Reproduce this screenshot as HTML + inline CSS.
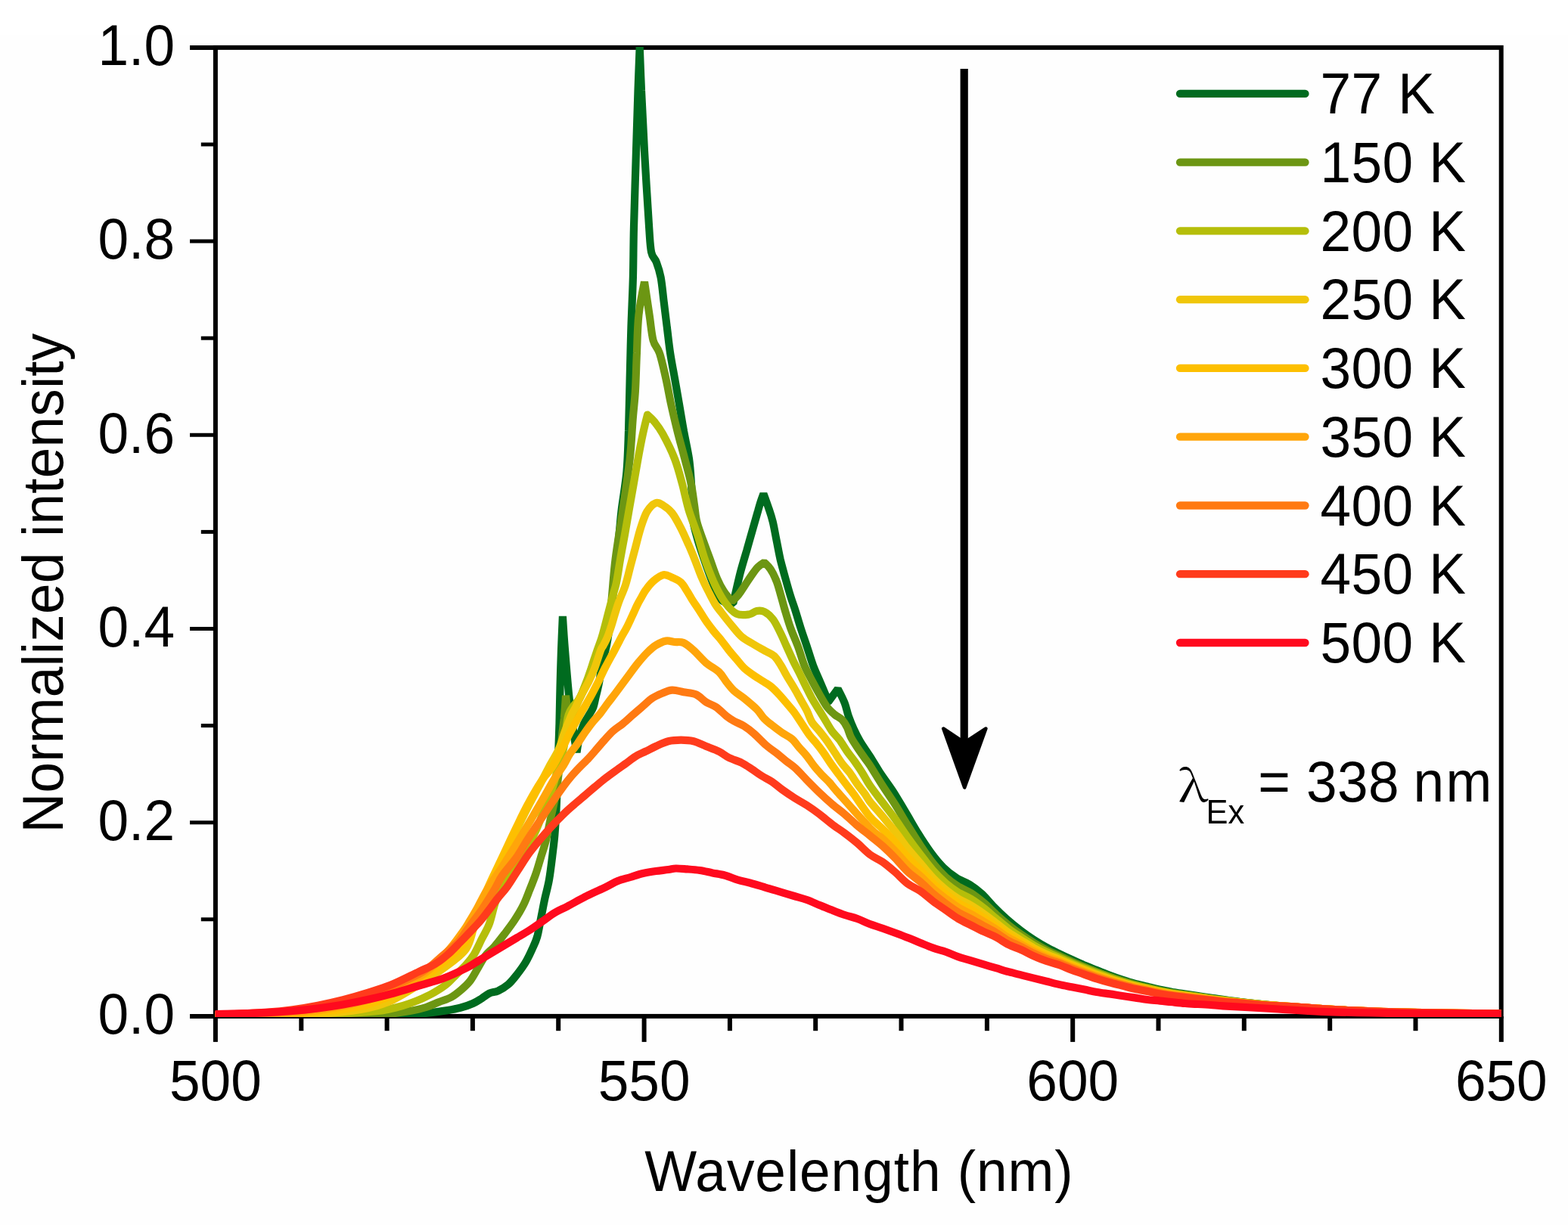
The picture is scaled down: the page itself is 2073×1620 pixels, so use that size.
<!DOCTYPE html>
<html lang="en"><head><meta charset="utf-8"><title>Normalized intensity vs Wavelength</title>
<style>html,body{margin:0;padding:0;background:#fff}body{width:2073px;height:1620px;overflow:hidden}svg{display:block}text{font-family:"Liberation Sans", Arial, Helvetica, sans-serif;fill:#000}</style></head><body>
<svg width="2073" height="1620" viewBox="0 0 2073 1620" role="img" aria-label="Normalized intensity versus wavelength at temperatures from 77 K to 500 K">
<rect width="2073" height="1620" fill="#fff"/>
<rect x="0" y="46" width="2073" height="1574" fill="#fefefe"/>
<rect x="284.9" y="62.9" width="1699.8" height="1281.0" fill="none" stroke="#000" stroke-width="6.0"/>
<g stroke="#000" stroke-width="6.0" fill="none" stroke-linecap="butt">
<line x1="251.0" y1="1344.0" x2="284.9" y2="1344.0" stroke-width="6.0"/>
<line x1="265.8" y1="1215.8" x2="284.9" y2="1215.8" stroke-width="5.0"/>
<line x1="251.0" y1="1087.7" x2="284.9" y2="1087.7" stroke-width="5.0"/>
<line x1="265.8" y1="959.6" x2="284.9" y2="959.6" stroke-width="5.0"/>
<line x1="251.0" y1="831.5" x2="284.9" y2="831.5" stroke-width="5.0"/>
<line x1="265.8" y1="703.4" x2="284.9" y2="703.4" stroke-width="5.0"/>
<line x1="251.0" y1="575.3" x2="284.9" y2="575.3" stroke-width="5.0"/>
<line x1="265.8" y1="447.2" x2="284.9" y2="447.2" stroke-width="5.0"/>
<line x1="251.0" y1="319.1" x2="284.9" y2="319.1" stroke-width="5.0"/>
<line x1="265.8" y1="191.0" x2="284.9" y2="191.0" stroke-width="5.0"/>
<line x1="251.0" y1="62.9" x2="284.9" y2="62.9" stroke-width="6.0"/>
<line x1="284.9" y1="1344.0" x2="284.9" y2="1377.9"/>
<line x1="398.3" y1="1344.0" x2="398.3" y2="1363.2"/>
<line x1="511.6" y1="1344.0" x2="511.6" y2="1363.2"/>
<line x1="624.9" y1="1344.0" x2="624.9" y2="1363.2"/>
<line x1="738.2" y1="1344.0" x2="738.2" y2="1363.2"/>
<line x1="851.6" y1="1344.0" x2="851.6" y2="1377.9"/>
<line x1="964.9" y1="1344.0" x2="964.9" y2="1363.2"/>
<line x1="1078.2" y1="1344.0" x2="1078.2" y2="1363.2"/>
<line x1="1191.5" y1="1344.0" x2="1191.5" y2="1363.2"/>
<line x1="1304.9" y1="1344.0" x2="1304.9" y2="1363.2"/>
<line x1="1418.2" y1="1344.0" x2="1418.2" y2="1377.9"/>
<line x1="1531.5" y1="1344.0" x2="1531.5" y2="1363.2"/>
<line x1="1644.8" y1="1344.0" x2="1644.8" y2="1363.2"/>
<line x1="1758.2" y1="1344.0" x2="1758.2" y2="1363.2"/>
<line x1="1871.5" y1="1344.0" x2="1871.5" y2="1363.2"/>
<line x1="1984.8" y1="1344.0" x2="1984.8" y2="1377.9"/>
</g>
<clipPath id="pc"><rect x="283.8" y="61.9" width="1701.6" height="1283.1"/></clipPath>
<g fill="none" stroke-width="10.2" stroke-linejoin="bevel" stroke-linecap="butt" clip-path="url(#pc)">
<path stroke="#006B1F" d="M284.7 1343.3 C303.9 1343.3 364.1 1343.3 400.0 1343.3 C435.9 1343.3 477.8 1343.5 500.0 1343.3 C522.2 1343.1 522.3 1342.6 533.4 1342.0 C544.5 1341.4 557.1 1340.5 566.8 1339.5 C576.5 1338.5 584.8 1337.2 591.8 1336.1 C598.8 1335.0 602.9 1334.3 608.5 1332.8 C614.1 1331.3 620.5 1329.1 625.2 1327.0 C629.9 1324.9 633.3 1322.5 636.9 1320.3 C640.5 1318.1 643.3 1315.3 646.9 1313.6 C650.5 1311.9 654.4 1312.2 658.6 1310.3 C662.8 1308.3 667.7 1305.5 671.9 1301.9 C676.1 1298.3 679.7 1293.6 683.6 1288.6 C687.5 1283.6 692.0 1277.5 695.3 1271.9 C698.6 1266.3 701.1 1260.8 703.6 1255.2 C706.1 1249.6 708.3 1245.5 710.3 1238.5 C712.2 1231.5 713.6 1221.8 715.3 1213.5 C717.0 1205.2 718.5 1196.8 720.3 1188.4 C722.1 1180.1 724.3 1173.1 726.0 1163.4 C727.7 1153.7 729.3 1140.0 730.5 1130.0 C731.7 1120.0 732.6 1113.5 733.4 1103.5 C734.2 1093.5 734.9 1082.2 735.5 1070.0 C736.1 1057.8 736.5 1043.3 737.0 1030.0 C737.5 1016.7 738.0 1002.2 738.4 990.0 C738.8 977.8 739.1 970.3 739.5 957.0 C739.9 943.7 740.1 926.2 740.5 910.0 C740.9 893.8 741.4 875.8 742.0 860.0 C742.6 844.2 743.9 815.0 743.9 815.0 C743.9 815.0 745.6 842.8 747.0 860.0 C748.4 877.2 750.5 903.0 752.0 918.0 C753.5 933.0 754.7 939.7 756.0 950.0 C757.3 960.3 758.9 972.5 760.0 980.0 C761.1 987.5 762.5 995.0 762.5 995.0 C762.5 995.0 764.4 981.3 766.0 975.0 C767.6 968.7 769.8 962.0 772.0 957.0 C774.2 952.0 777.0 948.6 779.0 945.0 C781.0 941.4 782.8 939.4 784.3 935.4 C785.8 931.4 786.8 924.9 787.8 921.0 C788.8 917.1 789.2 915.4 790.0 912.0 C790.8 908.6 791.2 907.3 792.4 900.6 C793.6 893.9 795.6 878.4 797.0 871.6 C798.4 864.8 799.4 864.4 800.5 860.0 C801.6 855.6 802.2 853.3 803.5 845.0 C804.8 836.7 805.5 833.0 808.0 810.0 C810.5 787.0 816.2 729.8 818.5 707.0 C820.8 684.2 820.1 687.4 821.8 673.5 C823.5 659.6 827.0 640.8 828.5 623.5 C830.0 606.2 830.3 590.5 831.0 570.0 C831.7 549.5 832.1 523.0 832.7 500.3 C833.3 477.6 833.7 455.8 834.4 433.5 C835.1 411.2 836.3 389.1 836.9 366.8 C837.5 344.6 837.3 327.8 838.0 300.0 C838.7 272.2 840.1 230.0 841.0 200.0 C841.9 170.0 842.7 143.0 843.5 120.0 C844.3 97.0 845.7 62.0 845.7 62.0 C845.7 62.0 847.0 97.0 848.0 120.0 C849.0 143.0 850.3 170.0 852.0 200.0 C853.7 230.0 856.6 277.8 858.1 300.0 C859.6 322.2 859.5 325.6 861.1 333.4 C862.7 341.2 865.7 341.1 867.8 346.7 C869.9 352.3 871.9 357.9 873.6 366.8 C875.3 375.7 876.4 389.1 877.8 400.2 C879.2 411.3 880.5 422.4 881.9 433.5 C883.3 444.6 884.4 455.8 886.1 466.9 C887.8 478.0 890.0 489.2 892.0 500.3 C894.0 511.4 895.8 522.1 897.8 533.7 C899.8 545.3 901.8 557.8 904.0 570.0 C906.2 582.2 909.3 595.1 911.0 606.8 C912.7 618.5 913.3 630.3 914.0 640.0 C914.7 649.7 914.6 656.7 915.0 665.0 C915.4 673.3 915.2 681.7 916.5 690.0 C917.8 698.3 920.4 706.7 922.8 715.0 C925.2 723.3 928.1 731.7 931.0 740.0 C933.9 748.3 936.7 756.7 940.0 765.0 C943.3 773.3 947.5 784.7 950.8 790.0 C954.1 795.3 956.9 795.7 960.0 797.0 C963.1 798.3 969.3 798.0 969.3 798.0 C969.3 798.0 970.4 792.9 972.0 786.0 C973.6 779.1 976.4 766.5 978.9 756.8 C981.4 747.1 984.5 737.4 987.3 727.6 C990.1 717.9 993.1 706.9 995.6 698.3 C998.1 689.7 1000.4 681.7 1002.0 676.0 C1003.6 670.3 1004.3 667.8 1005.5 664.0 C1006.7 660.2 1009.4 653.0 1009.4 653.0 C1009.4 653.0 1014.7 667.3 1016.7 673.5 C1018.8 679.7 1020.0 683.1 1021.7 690.0 C1023.4 696.9 1025.0 706.7 1026.7 715.0 C1028.4 723.3 1029.8 731.7 1031.7 740.0 C1033.7 748.3 1036.2 757.0 1038.4 765.0 C1040.6 773.0 1042.8 780.8 1045.0 788.0 C1047.2 795.2 1049.5 801.0 1051.7 808.0 C1053.9 815.0 1055.9 822.2 1058.4 830.0 C1060.9 837.8 1064.0 846.7 1066.8 855.0 C1069.6 863.3 1072.2 872.5 1075.0 880.0 C1077.8 887.5 1080.4 892.8 1083.5 900.0 C1086.6 907.2 1091.4 919.0 1093.5 923.5 C1095.6 928.0 1096.0 927.0 1096.0 927.0 L1107.7 911.0 C1107.7 911.0 1114.5 924.0 1116.8 930.0 C1119.1 936.0 1119.8 941.4 1121.8 947.0 C1123.8 952.6 1126.0 958.1 1128.5 963.6 C1131.0 969.1 1133.3 973.9 1136.9 980.0 C1140.5 986.1 1145.5 993.0 1150.0 1000.0 C1154.5 1007.0 1158.5 1014.3 1163.6 1022.0 C1168.6 1029.7 1174.7 1037.4 1180.3 1046.0 C1185.9 1054.6 1191.4 1064.4 1197.0 1073.7 C1202.6 1083.0 1208.2 1093.1 1213.7 1102.0 C1219.2 1110.9 1224.8 1119.5 1230.3 1127.0 C1235.8 1134.5 1241.3 1141.3 1247.0 1147.0 C1252.7 1152.7 1258.8 1157.2 1264.6 1161.0 C1270.4 1164.8 1276.4 1166.2 1282.0 1169.7 C1287.6 1173.2 1292.7 1177.1 1298.0 1182.0 C1303.3 1186.9 1308.4 1193.5 1313.8 1199.0 C1319.2 1204.5 1324.5 1209.7 1330.5 1215.0 C1336.5 1220.3 1344.0 1226.4 1350.0 1231.0 C1356.0 1235.6 1361.2 1239.1 1366.8 1242.7 C1372.4 1246.3 1378.0 1249.7 1383.5 1252.7 C1389.0 1255.8 1394.5 1258.3 1400.0 1261.0 C1405.5 1263.7 1411.2 1266.4 1416.8 1269.0 C1422.4 1271.6 1428.0 1274.2 1433.5 1276.5 C1439.0 1278.8 1444.4 1280.8 1450.0 1283.0 C1455.6 1285.2 1461.4 1287.6 1467.0 1289.7 C1472.6 1291.8 1478.1 1293.8 1483.6 1295.6 C1489.1 1297.4 1494.4 1299.1 1500.0 1300.6 C1505.6 1302.1 1511.4 1303.4 1517.0 1304.8 C1522.6 1306.2 1528.1 1307.6 1533.7 1308.8 C1539.3 1310.0 1544.9 1311.0 1550.4 1312.0 C1556.0 1313.0 1561.4 1313.8 1567.0 1314.6 C1572.6 1315.4 1578.2 1316.2 1583.8 1317.0 C1589.4 1317.8 1591.1 1318.3 1600.5 1319.6 C1609.9 1320.9 1623.4 1323.1 1640.0 1325.0 C1656.6 1326.9 1680.0 1329.3 1700.0 1331.0 C1720.0 1332.7 1740.0 1333.8 1760.0 1335.0 C1780.0 1336.2 1796.7 1337.2 1820.0 1338.0 C1843.3 1338.8 1872.5 1339.5 1900.0 1340.0 C1927.5 1340.5 1970.6 1340.8 1984.7 1341.0"/>
<path stroke="#6C9613" d="M284.7 1343.0 C312.2 1343.0 414.1 1343.2 450.0 1343.0 C485.9 1342.8 488.9 1342.4 500.0 1342.0 C511.1 1341.6 509.8 1341.4 516.7 1340.6 C523.7 1339.8 533.9 1338.4 541.7 1337.0 C549.5 1335.6 557.0 1334.0 563.4 1332.0 C569.8 1330.0 574.4 1327.5 580.0 1325.3 C585.6 1323.1 591.8 1321.4 596.8 1318.6 C601.8 1315.8 606.0 1312.2 610.2 1308.6 C614.4 1305.0 618.2 1301.6 621.8 1296.9 C625.4 1292.2 628.5 1285.8 631.9 1280.2 C635.2 1274.6 638.3 1268.2 641.9 1263.5 C645.5 1258.8 649.4 1256.5 653.6 1251.8 C657.8 1247.1 662.5 1241.0 666.9 1235.2 C671.3 1229.4 676.1 1223.2 680.3 1216.8 C684.5 1210.4 688.7 1203.5 692.0 1196.8 C695.3 1190.1 697.5 1183.7 700.3 1176.7 C703.1 1169.7 706.1 1162.3 708.6 1155.0 C711.1 1147.7 713.1 1140.2 715.3 1133.0 C717.5 1125.8 719.8 1119.5 721.7 1111.8 C723.7 1104.1 725.2 1095.1 727.0 1086.8 C728.8 1078.5 730.8 1070.8 732.5 1061.7 C734.2 1052.6 736.1 1042.3 737.5 1032.0 C738.9 1021.7 740.1 1009.5 741.0 1000.0 C741.9 990.5 742.4 981.3 742.9 975.0 C743.4 968.7 743.8 966.2 744.3 962.0 C744.8 957.8 745.3 954.5 745.8 950.0 C746.2 945.5 746.6 940.0 747.0 935.0 C747.4 930.0 748.0 919.8 748.0 919.8 C748.0 919.8 749.7 935.8 751.0 940.0 C752.3 944.2 753.8 947.0 756.0 945.0 C758.2 943.0 761.7 932.8 764.0 928.0 C766.3 923.2 767.7 921.3 770.0 916.0 C772.3 910.7 775.3 903.2 778.0 896.0 C780.7 888.8 783.8 879.2 786.0 873.0 C788.2 866.8 789.2 863.7 791.0 858.5 C792.8 853.3 795.2 847.6 797.0 842.0 C798.8 836.4 800.2 831.5 802.0 825.0 C803.8 818.5 805.6 817.1 807.5 803.0 C809.4 788.9 810.8 761.9 813.5 740.3 C816.2 718.7 820.3 695.8 823.5 673.5 C826.7 651.2 830.5 626.5 832.7 606.8 C834.9 587.0 835.4 570.0 836.6 555.0 C837.8 540.0 839.0 531.7 839.9 517.0 C840.8 502.3 841.1 483.6 841.9 466.9 C842.6 450.2 842.7 432.5 844.4 416.8 C846.1 401.1 852.0 372.8 852.0 372.8 C852.0 372.8 856.7 403.9 858.6 416.8 C860.5 429.7 861.4 441.9 863.6 450.2 C865.8 458.5 869.1 458.5 871.9 466.9 C874.7 475.2 877.8 489.2 880.3 500.3 C882.8 511.4 884.5 522.1 887.0 533.7 C889.5 545.3 892.5 557.8 895.5 570.0 C898.5 582.2 902.3 595.1 905.3 606.8 C908.3 618.5 911.6 629.8 913.7 640.0 C915.8 650.2 916.7 659.7 918.0 668.0 C919.3 676.3 919.3 682.2 921.3 690.0 C923.2 697.8 926.8 706.7 929.7 715.0 C932.6 723.3 935.9 731.7 938.9 740.0 C941.9 748.3 945.0 758.0 948.0 765.0 C951.0 772.0 953.5 776.7 956.8 781.8 C960.1 786.9 967.7 795.4 967.7 795.4 C967.7 795.4 973.9 789.6 976.8 786.0 C979.7 782.4 982.4 777.7 985.2 773.5 C988.0 769.3 990.7 764.9 993.5 761.0 C996.3 757.1 999.1 752.9 1001.9 750.0 C1004.7 747.1 1010.2 743.8 1010.2 743.8 C1010.2 743.8 1015.8 748.4 1018.6 752.6 C1021.4 756.9 1024.6 763.4 1026.9 769.3 C1029.2 775.2 1030.7 781.9 1032.5 788.0 C1034.3 794.1 1035.4 799.0 1037.5 806.0 C1039.6 813.0 1042.1 821.8 1045.0 830.0 C1047.9 838.2 1051.9 846.7 1055.0 855.0 C1058.1 863.3 1060.3 872.5 1063.4 880.0 C1066.5 887.5 1070.1 893.6 1073.4 900.0 C1076.8 906.4 1080.2 912.7 1083.5 918.5 C1086.8 924.3 1090.2 930.6 1093.5 935.0 C1096.8 939.4 1100.2 942.2 1103.5 945.0 C1106.8 947.8 1110.8 949.2 1113.5 952.0 C1116.2 954.8 1118.1 958.2 1120.0 962.0 C1121.9 965.8 1122.8 970.6 1125.0 975.0 C1127.2 979.4 1130.2 983.6 1133.5 988.6 C1136.8 993.6 1142.2 1001.1 1145.0 1005.0 C1147.8 1008.9 1146.3 1006.3 1150.0 1012.0 C1153.7 1017.7 1161.4 1030.5 1167.0 1039.2 C1172.6 1047.9 1178.1 1055.5 1183.6 1064.2 C1189.1 1072.9 1194.4 1082.5 1200.0 1091.5 C1205.6 1100.5 1211.4 1109.9 1217.0 1118.3 C1222.6 1126.7 1228.1 1134.8 1233.7 1141.7 C1239.3 1148.6 1244.9 1154.8 1250.4 1159.9 C1256.0 1165.0 1261.4 1168.7 1267.0 1172.2 C1272.6 1175.7 1278.2 1177.5 1283.8 1181.1 C1289.4 1184.7 1295.0 1189.1 1300.5 1193.7 C1306.0 1198.3 1311.2 1204.0 1316.7 1208.9 C1322.2 1213.9 1327.9 1218.9 1333.4 1223.4 C1339.0 1227.9 1344.4 1231.9 1350.0 1235.8 C1355.6 1239.7 1361.2 1243.4 1366.8 1246.8 C1372.4 1250.2 1378.0 1253.4 1383.5 1256.2 C1389.0 1259.0 1394.5 1261.2 1400.0 1263.8 C1405.5 1266.4 1411.2 1269.1 1416.8 1271.6 C1422.4 1274.1 1428.0 1276.5 1433.5 1278.8 C1439.0 1281.1 1444.4 1283.1 1450.0 1285.2 C1455.6 1287.3 1461.4 1289.5 1467.0 1291.5 C1472.6 1293.5 1478.1 1295.3 1483.6 1297.1 C1489.1 1298.8 1494.4 1300.5 1500.0 1302.0 C1505.6 1303.5 1511.4 1304.7 1517.0 1306.0 C1522.6 1307.3 1528.1 1308.7 1533.7 1309.9 C1539.3 1311.1 1544.9 1312.1 1550.4 1313.0 C1556.0 1313.9 1561.4 1314.6 1567.0 1315.4 C1572.6 1316.2 1578.2 1317.0 1583.8 1317.8 C1589.4 1318.6 1595.0 1319.4 1600.5 1320.2 C1606.0 1321.0 1609.4 1321.5 1617.0 1322.4 C1624.6 1323.4 1636.6 1324.9 1646.0 1325.9 C1655.4 1326.9 1663.3 1327.7 1673.4 1328.6 C1683.5 1329.5 1695.7 1330.6 1706.8 1331.4 C1717.9 1332.2 1728.9 1333.0 1740.0 1333.7 C1751.1 1334.4 1755.2 1334.9 1773.5 1335.7 C1791.8 1336.5 1814.8 1337.8 1850.0 1338.7 C1885.2 1339.6 1962.2 1340.5 1984.7 1340.9"/>
<path stroke="#B5BE0A" stroke-linejoin="round" d="M284.7 1343.0 C303.9 1342.8 372.4 1342.4 400.0 1342.0 C427.6 1341.6 433.3 1341.3 450.0 1340.5 C466.7 1339.7 487.5 1338.4 500.0 1337.0 C512.5 1335.6 518.0 1333.7 525.0 1332.0 C532.0 1330.3 536.1 1329.0 541.7 1327.0 C547.3 1325.0 552.9 1322.8 558.4 1320.3 C563.9 1317.8 569.7 1315.0 575.0 1311.9 C580.3 1308.8 585.2 1305.8 590.0 1301.9 C594.8 1298.0 599.0 1293.0 603.5 1288.6 C608.0 1284.1 612.9 1279.7 616.8 1275.2 C620.7 1270.8 623.5 1267.5 626.9 1261.9 C630.2 1256.3 633.6 1248.5 636.9 1241.8 C640.2 1235.1 643.9 1229.9 646.9 1221.8 C649.9 1213.7 652.2 1200.8 655.0 1193.0 C657.8 1185.2 660.7 1179.9 663.4 1175.0 C666.1 1170.1 667.6 1168.6 671.0 1163.5 C674.4 1158.4 679.3 1151.0 683.5 1144.3 C687.7 1137.6 691.8 1131.2 696.0 1123.5 C700.2 1115.8 705.2 1105.7 708.5 1098.4 C711.8 1091.2 713.4 1086.4 716.0 1080.0 C718.6 1073.6 721.5 1066.7 724.0 1060.0 C726.5 1053.3 728.8 1047.0 731.0 1040.0 C733.2 1033.0 735.2 1024.3 737.0 1018.0 C738.8 1011.7 740.5 1007.5 742.0 1002.0 C743.5 996.5 744.9 991.2 746.0 985.0 C747.1 978.8 747.8 970.8 748.5 965.0 C749.2 959.2 749.7 954.0 750.5 950.0 C751.3 946.0 752.0 944.1 753.4 941.2 C754.8 938.3 757.1 935.1 759.0 932.5 C760.9 929.9 763.3 928.2 765.0 925.6 C766.7 923.0 768.0 920.1 769.4 916.9 C770.8 913.7 772.1 909.9 773.5 906.4 C774.9 902.9 776.2 899.7 777.5 896.0 C778.8 892.3 780.1 888.5 781.5 884.4 C782.9 880.3 784.2 875.7 785.6 871.6 C787.0 867.5 788.0 864.7 789.6 860.0 C791.2 855.3 793.7 849.1 795.5 843.3 C797.3 837.5 798.6 832.2 800.5 825.0 C802.4 817.8 805.2 806.7 807.0 800.0 C808.8 793.3 809.7 790.0 811.0 785.0 C812.3 780.0 813.5 777.5 815.0 770.0 C816.5 762.5 818.2 750.5 820.0 740.0 C821.8 729.5 824.0 718.1 826.0 707.0 C828.0 695.9 829.8 684.7 831.8 673.5 C833.8 662.3 835.8 651.1 837.7 640.0 C839.7 628.9 841.5 617.9 843.5 606.8 C845.5 595.7 847.9 583.1 850.0 573.4 C852.1 563.7 856.0 548.5 856.0 548.5 C856.0 548.5 861.7 553.4 865.0 557.5 C868.3 561.6 871.5 565.2 876.0 573.4 C880.5 581.6 887.7 595.7 892.0 606.8 C896.3 617.9 899.0 628.9 902.0 640.0 C905.0 651.1 907.0 662.3 910.3 673.5 C913.6 684.7 918.4 695.9 922.0 707.0 C925.6 718.1 928.1 729.2 932.0 740.3 C935.9 751.4 940.9 764.2 945.4 773.7 C949.9 783.2 954.0 790.7 958.7 797.0 C963.4 803.3 968.4 809.1 973.7 811.7 C979.0 814.3 986.0 813.1 990.4 812.5 C994.8 811.9 997.0 808.6 1000.4 808.0 C1003.8 807.4 1006.9 807.2 1010.5 809.0 C1014.1 810.8 1018.5 814.4 1022.0 819.0 C1025.5 823.6 1028.7 830.8 1031.7 836.8 C1034.7 842.8 1037.2 848.9 1040.0 855.0 C1042.8 861.1 1045.6 867.7 1048.4 873.5 C1051.2 879.3 1054.0 884.4 1056.8 890.0 C1059.6 895.6 1062.2 901.3 1065.0 906.9 C1067.8 912.5 1070.3 918.0 1073.4 923.5 C1076.5 929.0 1080.4 935.0 1083.5 940.0 C1086.6 945.0 1089.0 949.1 1091.8 953.6 C1094.5 958.1 1097.0 962.8 1100.0 967.0 C1103.0 971.2 1106.7 974.1 1110.0 978.6 C1113.3 983.1 1116.7 989.0 1120.0 993.7 C1123.3 998.4 1126.7 1002.3 1130.0 1007.0 C1133.3 1011.7 1136.7 1016.7 1140.0 1022.0 C1143.3 1027.3 1145.5 1032.1 1150.0 1038.7 C1154.5 1045.3 1161.4 1054.0 1167.0 1061.4 C1172.6 1068.8 1178.1 1075.6 1183.6 1083.3 C1189.1 1091.0 1194.4 1099.6 1200.0 1107.4 C1205.6 1115.2 1211.4 1123.0 1217.0 1130.3 C1222.6 1137.6 1228.1 1145.1 1233.7 1151.4 C1239.3 1157.7 1244.9 1163.2 1250.4 1168.0 C1256.0 1172.8 1261.4 1176.7 1267.0 1180.2 C1272.6 1183.7 1278.2 1185.5 1283.8 1188.9 C1289.4 1192.3 1295.0 1196.5 1300.5 1200.8 C1306.0 1205.1 1311.2 1209.9 1316.7 1214.5 C1322.2 1219.1 1327.9 1224.0 1333.4 1228.2 C1339.0 1232.4 1344.4 1235.8 1350.0 1239.5 C1355.6 1243.2 1361.2 1246.9 1366.8 1250.1 C1372.4 1253.3 1378.0 1256.2 1383.5 1258.9 C1389.0 1261.6 1394.5 1263.6 1400.0 1266.1 C1405.5 1268.6 1411.2 1271.3 1416.8 1273.7 C1422.4 1276.1 1428.0 1278.4 1433.5 1280.6 C1439.0 1282.8 1444.4 1284.8 1450.0 1286.9 C1455.6 1289.0 1461.4 1291.1 1467.0 1293.0 C1472.6 1294.9 1478.1 1296.6 1483.6 1298.3 C1489.1 1300.0 1494.4 1301.6 1500.0 1303.0 C1505.6 1304.4 1511.4 1305.6 1517.0 1306.9 C1522.6 1308.2 1528.1 1309.6 1533.7 1310.7 C1539.3 1311.8 1544.9 1312.8 1550.4 1313.7 C1556.0 1314.6 1561.4 1315.3 1567.0 1316.1 C1572.6 1316.9 1578.2 1317.6 1583.8 1318.4 C1589.4 1319.2 1595.0 1320.0 1600.5 1320.7 C1606.0 1321.5 1609.4 1322.0 1617.0 1322.9 C1624.6 1323.8 1636.6 1325.1 1646.0 1326.1 C1655.4 1327.1 1663.3 1327.8 1673.4 1328.7 C1683.5 1329.6 1695.7 1330.5 1706.8 1331.3 C1717.9 1332.1 1728.9 1332.9 1740.0 1333.6 C1751.1 1334.3 1755.2 1334.8 1773.5 1335.6 C1791.8 1336.4 1814.8 1337.8 1850.0 1338.7 C1885.2 1339.6 1962.2 1340.5 1984.7 1340.8"/>
<path stroke="#F0C60A" stroke-linejoin="round" d="M284.7 1343.0 C300.6 1342.8 354.1 1342.6 380.0 1342.0 C405.9 1341.4 422.2 1341.0 440.0 1339.5 C457.8 1338.0 473.7 1335.9 487.0 1333.0 C500.3 1330.1 508.8 1327.2 520.0 1322.0 C531.2 1316.8 542.8 1309.0 554.0 1302.0 C565.2 1295.0 576.7 1287.8 587.0 1280.0 C597.3 1272.2 609.2 1264.7 616.0 1255.0 C622.8 1245.3 622.9 1235.3 628.0 1222.0 C633.1 1208.7 642.1 1185.9 646.6 1175.0 C651.1 1164.1 651.8 1163.6 655.0 1156.8 C658.2 1150.0 662.2 1141.9 665.8 1134.3 C669.4 1126.7 673.1 1118.7 676.7 1111.0 C680.3 1103.3 683.8 1096.1 687.5 1088.4 C691.2 1080.7 695.0 1073.1 699.2 1065.0 C703.4 1056.9 708.1 1048.4 712.5 1040.0 C716.9 1031.6 721.4 1022.7 725.7 1014.6 C730.0 1006.5 735.0 999.1 738.5 991.4 C742.0 983.7 743.6 975.9 746.5 968.2 C749.4 960.5 753.4 950.5 755.8 945.0 C758.2 939.5 758.8 939.9 761.0 935.4 C763.2 930.9 766.2 923.8 769.2 918.0 C772.2 912.2 775.9 906.4 778.7 900.6 C781.6 894.8 783.7 890.0 786.3 883.2 C788.9 876.4 792.2 865.0 794.1 860.0 C796.0 855.0 796.3 856.1 797.8 853.3 C799.2 850.5 801.1 847.3 802.8 843.3 C804.5 839.3 806.1 834.3 807.8 829.2 C809.5 824.1 811.0 818.2 812.8 812.5 C814.6 806.8 816.1 801.5 818.5 795.0 C820.9 788.5 824.4 781.4 826.9 773.7 C829.4 766.0 831.3 757.0 833.5 748.6 C835.7 740.2 838.0 731.9 840.2 723.6 C842.4 715.3 844.4 706.4 846.9 698.6 C849.4 690.8 851.9 682.5 855.2 676.9 C858.5 671.3 863.3 666.6 866.9 665.2 C870.5 663.8 873.4 666.3 877.0 668.5 C880.6 670.7 884.7 673.5 888.6 678.5 C892.5 683.5 896.7 691.6 900.3 698.6 C903.9 705.6 907.2 713.3 910.3 720.3 C913.4 727.2 915.9 733.3 918.7 740.3 C921.5 747.2 924.1 755.2 927.0 762.0 C929.9 768.8 932.9 774.9 936.0 781.0 C939.1 787.1 942.4 793.9 945.4 798.7 C948.4 803.5 950.1 805.3 953.7 810.0 C957.3 814.7 962.5 821.4 967.0 826.7 C971.5 832.0 975.4 837.5 980.4 841.8 C985.4 846.1 991.9 849.4 997.0 852.5 C1002.1 855.6 1006.6 858.0 1011.0 860.5 C1015.4 863.0 1019.9 864.2 1023.5 867.5 C1027.1 870.8 1029.8 875.7 1032.5 880.0 C1035.2 884.3 1037.1 888.5 1040.0 893.5 C1042.9 898.5 1046.9 904.8 1050.0 910.0 C1053.1 915.2 1055.6 920.0 1058.4 925.0 C1061.2 930.0 1064.3 935.0 1066.8 940.0 C1069.3 945.0 1070.6 950.5 1073.4 955.0 C1076.2 959.5 1080.2 962.8 1083.5 967.0 C1086.8 971.2 1090.2 975.3 1093.5 980.0 C1096.8 984.7 1100.2 990.0 1103.5 995.0 C1106.8 1000.0 1110.2 1005.5 1113.5 1010.0 C1116.8 1014.5 1120.2 1017.5 1123.5 1022.0 C1126.8 1026.5 1130.2 1032.3 1133.5 1037.0 C1136.8 1041.7 1140.8 1046.2 1143.5 1050.0 C1146.2 1053.8 1146.1 1055.0 1150.0 1060.0 C1153.9 1065.0 1161.4 1073.1 1167.0 1079.8 C1172.6 1086.5 1178.1 1092.9 1183.6 1099.9 C1189.1 1106.9 1194.4 1115.0 1200.0 1122.0 C1205.6 1129.0 1211.4 1135.4 1217.0 1141.9 C1222.6 1148.4 1228.1 1155.4 1233.7 1161.2 C1239.3 1167.0 1244.9 1172.1 1250.4 1176.7 C1256.0 1181.3 1261.4 1185.2 1267.0 1188.6 C1272.6 1192.0 1278.2 1194.0 1283.8 1197.3 C1289.4 1200.6 1295.0 1204.4 1300.5 1208.3 C1306.0 1212.2 1311.2 1216.3 1316.7 1220.5 C1322.2 1224.7 1327.9 1229.5 1333.4 1233.3 C1339.0 1237.1 1344.4 1240.1 1350.0 1243.5 C1355.6 1246.9 1361.2 1250.5 1366.8 1253.6 C1372.4 1256.6 1378.0 1259.3 1383.5 1261.8 C1389.0 1264.3 1394.5 1266.2 1400.0 1268.5 C1405.5 1270.8 1411.2 1273.5 1416.8 1275.8 C1422.4 1278.1 1428.0 1280.3 1433.5 1282.5 C1439.0 1284.7 1444.4 1286.7 1450.0 1288.7 C1455.6 1290.7 1461.4 1292.8 1467.0 1294.6 C1472.6 1296.4 1478.1 1298.0 1483.6 1299.6 C1489.1 1301.2 1494.4 1302.8 1500.0 1304.2 C1505.6 1305.6 1511.4 1306.7 1517.0 1307.9 C1522.6 1309.1 1528.1 1310.5 1533.7 1311.6 C1539.3 1312.7 1544.9 1313.6 1550.4 1314.5 C1556.0 1315.4 1561.4 1316.0 1567.0 1316.8 C1572.6 1317.5 1578.2 1318.3 1583.8 1319.0 C1589.4 1319.7 1595.0 1320.5 1600.5 1321.2 C1606.0 1321.9 1609.4 1322.5 1617.0 1323.3 C1624.6 1324.1 1636.6 1325.4 1646.0 1326.3 C1655.4 1327.2 1663.3 1328.1 1673.4 1328.9 C1683.5 1329.7 1695.7 1330.4 1706.8 1331.2 C1717.9 1332.0 1728.9 1332.9 1740.0 1333.6 C1751.1 1334.3 1755.2 1334.8 1773.5 1335.6 C1791.8 1336.4 1814.8 1337.7 1850.0 1338.6 C1885.2 1339.5 1962.2 1340.4 1984.7 1340.8"/>
<path stroke="#FDBF00" stroke-linejoin="round" d="M284.7 1343.0 C295.6 1342.8 327.4 1342.8 350.0 1342.0 C372.6 1341.2 397.2 1340.3 420.0 1338.0 C442.8 1335.7 464.7 1334.8 487.0 1328.0 C509.3 1321.2 532.5 1310.8 554.0 1297.0 C575.5 1283.2 603.3 1259.8 616.0 1245.0 C628.7 1230.2 625.2 1219.7 630.0 1208.0 C634.8 1196.3 640.8 1183.5 644.6 1175.0 C648.4 1166.5 649.8 1163.6 653.0 1156.8 C656.2 1150.0 660.2 1141.9 663.8 1134.3 C667.4 1126.7 671.1 1118.7 674.7 1111.0 C678.3 1103.3 681.8 1096.1 685.5 1088.4 C689.2 1080.7 692.9 1073.1 697.2 1065.0 C701.5 1056.9 707.6 1046.3 711.4 1040.0 C715.2 1033.7 716.9 1031.2 720.0 1027.0 C723.1 1022.8 726.2 1020.5 730.0 1014.6 C733.8 1008.7 738.5 999.1 742.5 991.4 C746.5 983.7 749.9 975.9 754.0 968.2 C758.1 960.5 763.9 950.5 767.0 945.0 C770.1 939.5 770.0 939.9 772.6 935.4 C775.2 930.9 779.4 923.8 782.5 918.0 C785.6 912.2 788.6 906.4 791.5 900.6 C794.4 894.8 796.4 890.0 799.9 883.2 C803.4 876.4 808.7 866.9 812.4 860.0 C816.1 853.1 819.4 846.6 822.0 841.7 C824.6 836.8 826.0 834.9 828.3 830.4 C830.6 825.9 833.4 819.7 835.8 814.6 C838.2 809.5 840.5 804.1 842.5 800.0 C844.5 795.9 846.1 793.3 848.0 790.0 C849.9 786.7 851.0 783.9 853.6 780.4 C856.2 776.9 859.7 772.1 863.6 768.7 C867.5 765.4 872.8 761.1 877.0 760.3 C881.2 759.5 884.7 762.0 888.6 763.7 C892.5 765.4 897.0 767.2 900.3 770.3 C903.6 773.3 906.0 778.1 908.5 782.0 C911.0 785.9 912.8 789.4 915.3 793.4 C917.8 797.4 920.6 801.3 923.7 806.0 C926.8 810.7 930.4 816.9 933.7 821.7 C937.0 826.5 940.4 830.8 943.7 835.0 C947.0 839.2 950.4 842.6 953.7 846.8 C957.0 851.0 960.4 855.8 963.7 860.0 C967.0 864.2 970.4 867.9 973.7 871.8 C977.1 875.7 979.9 879.9 983.8 883.5 C987.7 887.1 992.6 890.5 997.0 893.5 C1001.4 896.5 1006.2 899.3 1010.0 901.8 C1013.8 904.3 1016.7 905.7 1020.0 908.5 C1023.3 911.3 1026.7 914.9 1030.0 918.5 C1033.3 922.1 1036.7 926.1 1040.0 930.0 C1043.3 933.9 1046.7 937.5 1050.0 942.0 C1053.3 946.5 1056.7 952.0 1060.0 957.0 C1063.3 962.0 1066.9 967.8 1070.0 972.0 C1073.1 976.2 1075.4 978.2 1078.5 982.0 C1081.6 985.8 1085.2 990.3 1088.5 995.0 C1091.8 999.7 1095.2 1005.2 1098.5 1010.0 C1101.8 1014.8 1105.2 1019.2 1108.5 1023.7 C1111.8 1028.2 1115.2 1032.6 1118.5 1037.0 C1121.8 1041.4 1123.2 1042.8 1128.5 1050.0 C1133.8 1057.2 1143.6 1072.3 1150.0 1080.0 C1156.4 1087.7 1161.4 1090.7 1167.0 1096.4 C1172.6 1102.1 1178.1 1107.9 1183.6 1114.1 C1189.1 1120.3 1194.4 1127.7 1200.0 1133.8 C1205.6 1139.9 1211.4 1145.0 1217.0 1150.8 C1222.6 1156.5 1228.1 1163.0 1233.7 1168.3 C1239.3 1173.6 1244.9 1178.2 1250.4 1182.6 C1256.0 1186.9 1261.4 1191.0 1267.0 1194.4 C1272.6 1197.8 1278.2 1199.9 1283.8 1203.1 C1289.4 1206.3 1295.0 1209.9 1300.5 1213.5 C1306.0 1217.1 1311.2 1220.8 1316.7 1224.7 C1322.2 1228.6 1327.9 1233.3 1333.4 1236.9 C1339.0 1240.5 1344.4 1243.0 1350.0 1246.2 C1355.6 1249.4 1361.2 1253.0 1366.8 1255.9 C1372.4 1258.9 1378.0 1261.5 1383.5 1263.9 C1389.0 1266.3 1394.5 1268.0 1400.0 1270.2 C1405.5 1272.5 1411.2 1275.1 1416.8 1277.4 C1422.4 1279.7 1428.0 1281.8 1433.5 1283.9 C1439.0 1286.0 1444.4 1288.0 1450.0 1290.0 C1455.6 1292.0 1461.4 1293.8 1467.0 1295.6 C1472.6 1297.3 1478.1 1298.9 1483.6 1300.5 C1489.1 1302.1 1494.4 1303.7 1500.0 1305.0 C1505.6 1306.3 1511.4 1307.4 1517.0 1308.6 C1522.6 1309.8 1528.1 1311.1 1533.7 1312.2 C1539.3 1313.3 1544.9 1314.2 1550.4 1315.0 C1556.0 1315.8 1561.4 1316.6 1567.0 1317.3 C1572.6 1318.0 1578.2 1318.7 1583.8 1319.4 C1589.4 1320.1 1595.0 1320.9 1600.5 1321.6 C1606.0 1322.3 1609.4 1322.9 1617.0 1323.7 C1624.6 1324.5 1636.6 1325.6 1646.0 1326.5 C1655.4 1327.4 1663.3 1328.2 1673.4 1329.0 C1683.5 1329.8 1695.7 1330.4 1706.8 1331.2 C1717.9 1332.0 1728.9 1332.9 1740.0 1333.6 C1751.1 1334.3 1755.2 1334.8 1773.5 1335.6 C1791.8 1336.4 1814.8 1337.8 1850.0 1338.6 C1885.2 1339.4 1962.2 1340.3 1984.7 1340.7"/>
<path stroke="#FFA50A" stroke-linejoin="round" d="M284.7 1342.5 C295.6 1342.2 327.4 1342.1 350.0 1341.0 C372.6 1339.9 397.2 1339.2 420.0 1336.0 C442.8 1332.8 464.7 1329.3 487.0 1322.0 C509.3 1314.7 536.8 1302.3 554.0 1292.0 C571.2 1281.7 580.3 1270.0 590.0 1260.0 C599.7 1250.0 606.8 1239.0 612.0 1232.0 C617.2 1225.0 617.8 1223.2 621.0 1218.0 C624.2 1212.8 627.7 1207.0 631.0 1201.0 C634.3 1195.0 637.5 1188.2 641.0 1182.0 C644.5 1175.8 648.0 1170.2 652.0 1164.0 C656.0 1157.8 659.7 1153.2 665.0 1145.0 C670.3 1136.8 677.7 1124.7 683.6 1115.0 C689.5 1105.3 694.7 1096.4 700.3 1086.9 C705.9 1077.4 711.5 1067.5 717.0 1058.0 C722.5 1048.5 728.3 1037.7 733.0 1030.0 C737.7 1022.3 741.6 1017.5 745.0 1012.0 C748.4 1006.5 750.3 1001.7 753.4 997.0 C756.5 992.3 760.1 988.3 763.4 983.6 C766.7 978.9 770.0 973.4 773.4 968.6 C776.8 963.8 780.1 959.2 783.5 955.0 C786.9 950.8 790.2 947.8 793.5 943.6 C796.8 939.4 800.2 934.4 803.5 930.0 C806.8 925.6 810.2 921.4 813.5 917.0 C816.8 912.6 820.2 908.0 823.5 903.5 C826.8 899.0 830.2 894.5 833.5 890.0 C836.8 885.5 839.9 881.2 843.5 876.8 C847.1 872.4 851.3 867.4 855.2 863.5 C859.1 859.6 862.8 856.0 867.0 853.4 C871.2 850.8 876.1 848.3 880.3 847.6 C884.5 846.9 888.1 848.6 892.0 849.0 C895.9 849.4 899.4 848.2 903.6 850.0 C907.8 851.8 912.0 855.5 917.0 860.0 C922.0 864.5 928.1 872.0 933.7 876.8 C939.3 881.5 946.0 884.3 950.4 888.5 C954.8 892.7 957.1 897.6 960.4 901.8 C963.7 906.0 966.5 909.9 970.4 913.5 C974.3 917.1 978.8 919.4 983.8 923.5 C988.8 927.6 996.1 933.6 1000.5 938.0 C1004.9 942.4 1006.8 946.6 1010.0 950.0 C1013.2 953.4 1016.1 955.5 1020.0 958.6 C1023.9 961.7 1029.0 965.5 1033.4 968.6 C1037.9 971.7 1042.8 973.7 1046.7 977.0 C1050.6 980.3 1053.4 984.8 1056.7 988.6 C1060.0 992.4 1063.5 995.8 1066.8 1000.0 C1070.1 1004.2 1073.5 1009.5 1076.8 1013.7 C1080.1 1017.9 1083.5 1021.5 1086.8 1025.0 C1090.1 1028.5 1093.5 1031.3 1096.8 1035.0 C1100.1 1038.7 1097.9 1037.0 1106.8 1047.0 C1115.7 1057.0 1140.0 1084.6 1150.0 1095.0 C1160.0 1105.4 1161.4 1104.2 1167.0 1109.3 C1172.6 1114.4 1178.1 1119.9 1183.6 1125.7 C1189.1 1131.5 1194.4 1138.4 1200.0 1143.9 C1205.6 1149.4 1211.4 1153.6 1217.0 1158.8 C1222.6 1164.0 1228.1 1170.0 1233.7 1175.0 C1239.3 1180.0 1244.9 1184.3 1250.4 1188.5 C1256.0 1192.7 1261.4 1196.8 1267.0 1200.2 C1272.6 1203.6 1278.2 1205.8 1283.8 1208.9 C1289.4 1212.0 1295.0 1215.5 1300.5 1218.8 C1306.0 1222.1 1311.2 1225.2 1316.7 1228.8 C1322.2 1232.4 1327.9 1237.0 1333.4 1240.4 C1339.0 1243.8 1344.4 1246.0 1350.0 1249.0 C1355.6 1252.0 1361.2 1255.5 1366.8 1258.3 C1372.4 1261.1 1378.0 1263.7 1383.5 1265.9 C1389.0 1268.2 1394.5 1269.6 1400.0 1271.8 C1405.5 1274.0 1411.2 1276.7 1416.8 1278.9 C1422.4 1281.1 1428.0 1283.2 1433.5 1285.2 C1439.0 1287.2 1444.4 1289.3 1450.0 1291.2 C1455.6 1293.1 1461.4 1295.0 1467.0 1296.7 C1472.6 1298.4 1478.1 1299.9 1483.6 1301.4 C1489.1 1302.9 1494.4 1304.5 1500.0 1305.8 C1505.6 1307.1 1511.4 1308.1 1517.0 1309.3 C1522.6 1310.5 1528.1 1311.8 1533.7 1312.8 C1539.3 1313.8 1544.9 1314.8 1550.4 1315.6 C1556.0 1316.4 1561.4 1317.1 1567.0 1317.8 C1572.6 1318.5 1578.2 1319.2 1583.8 1319.9 C1589.4 1320.6 1595.0 1321.2 1600.5 1321.9 C1606.0 1322.6 1609.4 1323.2 1617.0 1324.0 C1624.6 1324.8 1636.6 1325.7 1646.0 1326.6 C1655.4 1327.5 1663.3 1328.5 1673.4 1329.2 C1683.5 1330.0 1695.7 1330.4 1706.8 1331.1 C1717.9 1331.8 1728.9 1332.8 1740.0 1333.6 C1751.1 1334.3 1755.2 1334.8 1773.5 1335.6 C1791.8 1336.4 1814.8 1337.8 1850.0 1338.6 C1885.2 1339.4 1962.2 1340.3 1984.7 1340.6"/>
<path stroke="#FF7A12" stroke-linejoin="round" d="M284.7 1342.5 C295.6 1342.1 327.4 1341.6 350.0 1340.0 C372.6 1338.4 397.2 1336.8 420.0 1333.0 C442.8 1329.2 464.7 1324.5 487.0 1317.0 C509.3 1309.5 537.7 1296.8 554.0 1288.0 C570.3 1279.2 577.3 1270.2 585.0 1264.0 C592.7 1257.8 596.2 1254.5 600.0 1251.0 C603.8 1247.5 604.2 1247.8 608.0 1243.0 C611.8 1238.2 618.0 1228.9 623.0 1222.0 C628.0 1215.1 632.8 1209.3 638.0 1201.5 C643.2 1193.7 650.2 1182.2 654.5 1175.0 C658.8 1167.8 659.3 1164.8 664.0 1158.0 C668.7 1151.2 677.1 1142.1 682.6 1134.3 C688.1 1126.5 692.1 1118.7 697.0 1111.0 C701.9 1103.3 706.6 1096.2 711.8 1088.4 C717.0 1080.6 722.5 1072.1 728.0 1064.0 C733.5 1055.9 740.3 1046.2 744.8 1040.0 C749.3 1033.8 751.6 1031.0 755.0 1027.0 C758.4 1023.0 761.2 1020.0 765.0 1016.0 C768.8 1012.0 774.4 1006.8 778.0 1003.0 C781.6 999.2 783.4 996.9 786.8 993.0 C790.2 989.1 794.6 983.8 798.5 979.5 C802.4 975.2 806.0 970.8 810.2 967.0 C814.4 963.2 819.0 960.6 823.5 957.0 C828.0 953.4 832.4 949.1 836.9 945.2 C841.4 941.3 846.0 937.2 850.2 933.6 C854.4 930.0 857.8 926.3 862.0 923.5 C866.2 920.7 870.9 918.7 875.3 916.9 C879.7 915.1 883.9 913.0 888.6 912.7 C893.3 912.4 898.3 914.2 903.6 915.2 C908.9 916.2 915.3 916.3 920.3 918.5 C925.3 920.7 929.2 925.8 933.7 928.6 C938.2 931.4 942.5 932.1 947.0 935.2 C951.5 938.3 956.5 943.9 960.4 947.0 C964.3 950.1 966.5 951.4 970.4 953.6 C974.3 955.8 979.4 957.5 983.8 960.3 C988.2 963.1 992.1 966.0 997.0 970.3 C1001.9 974.6 1008.4 981.7 1013.4 986.0 C1018.4 990.3 1022.3 992.5 1026.7 996.0 C1031.1 999.5 1035.8 1003.7 1040.0 1007.0 C1044.2 1010.3 1047.2 1011.9 1051.7 1016.0 C1056.2 1020.1 1061.5 1026.3 1066.8 1031.7 C1072.1 1037.1 1078.0 1043.1 1083.5 1048.4 C1089.0 1053.7 1094.5 1058.7 1100.0 1063.4 C1105.5 1068.1 1111.2 1072.1 1116.8 1076.8 C1122.4 1081.5 1128.0 1087.1 1133.5 1091.8 C1139.0 1096.5 1144.4 1100.5 1150.0 1105.0 C1155.6 1109.5 1161.4 1113.9 1167.0 1118.9 C1172.6 1123.9 1178.1 1129.3 1183.6 1135.0 C1189.1 1140.7 1194.4 1147.6 1200.0 1152.8 C1205.6 1158.0 1211.4 1161.6 1217.0 1166.4 C1222.6 1171.2 1228.1 1177.1 1233.7 1181.9 C1239.3 1186.7 1244.9 1190.9 1250.4 1195.0 C1256.0 1199.1 1261.4 1203.2 1267.0 1206.6 C1272.6 1210.0 1278.2 1212.2 1283.8 1215.2 C1289.4 1218.2 1295.0 1221.4 1300.5 1224.4 C1306.0 1227.4 1311.2 1230.0 1316.7 1233.3 C1322.2 1236.6 1327.9 1241.1 1333.4 1244.2 C1339.0 1247.3 1344.4 1249.2 1350.0 1252.0 C1355.6 1254.8 1361.2 1258.2 1366.8 1260.9 C1372.4 1263.6 1378.0 1266.0 1383.5 1268.1 C1389.0 1270.2 1394.5 1271.5 1400.0 1273.6 C1405.5 1275.7 1411.2 1278.3 1416.8 1280.5 C1422.4 1282.7 1428.0 1284.7 1433.5 1286.7 C1439.0 1288.7 1444.4 1290.8 1450.0 1292.6 C1455.6 1294.4 1461.4 1296.2 1467.0 1297.8 C1472.6 1299.4 1478.1 1300.8 1483.6 1302.3 C1489.1 1303.8 1494.4 1305.3 1500.0 1306.6 C1505.6 1307.9 1511.4 1308.8 1517.0 1310.0 C1522.6 1311.2 1528.1 1312.5 1533.7 1313.5 C1539.3 1314.5 1544.9 1315.4 1550.4 1316.2 C1556.0 1317.0 1561.4 1317.6 1567.0 1318.3 C1572.6 1319.0 1578.2 1319.7 1583.8 1320.4 C1589.4 1321.1 1595.0 1321.7 1600.5 1322.3 C1606.0 1322.9 1609.4 1323.5 1617.0 1324.3 C1624.6 1325.0 1636.6 1326.0 1646.0 1326.8 C1655.4 1327.6 1663.3 1328.6 1673.4 1329.3 C1683.5 1330.0 1695.7 1330.4 1706.8 1331.1 C1717.9 1331.8 1728.9 1332.8 1740.0 1333.6 C1751.1 1334.3 1755.2 1334.8 1773.5 1335.6 C1791.8 1336.4 1814.8 1337.7 1850.0 1338.5 C1885.2 1339.3 1962.2 1340.2 1984.7 1340.6"/>
<path stroke="#FF3B1C" stroke-linejoin="round" d="M284.7 1342.0 C296.2 1341.4 336.5 1339.6 353.5 1338.5 C370.5 1337.4 375.7 1336.7 386.8 1335.2 C397.9 1333.7 409.1 1331.9 420.2 1329.7 C431.3 1327.5 442.5 1325.0 453.6 1322.2 C464.7 1319.4 475.9 1316.2 487.0 1312.7 C498.1 1309.2 509.3 1305.6 520.4 1301.0 C531.5 1296.4 544.7 1289.3 553.8 1285.0 C562.9 1280.7 568.7 1278.8 575.0 1275.0 C581.3 1271.2 586.2 1267.3 591.8 1262.5 C597.4 1257.7 603.6 1250.9 608.5 1246.0 C613.4 1241.1 616.6 1237.7 621.0 1233.0 C625.4 1228.3 630.8 1222.8 635.0 1218.0 C639.2 1213.2 642.2 1209.0 646.0 1204.0 C649.8 1199.0 653.8 1193.3 658.0 1188.0 C662.2 1182.7 666.7 1178.0 671.0 1172.0 C675.3 1166.0 679.1 1159.4 684.0 1152.0 C688.9 1144.6 694.6 1135.1 700.1 1127.6 C705.6 1120.1 711.2 1113.3 716.8 1106.8 C722.4 1100.3 727.9 1094.2 733.5 1088.4 C739.1 1082.6 743.7 1077.7 750.2 1071.7 C756.7 1065.7 766.6 1057.6 772.6 1052.5 C778.6 1047.4 781.4 1044.8 786.0 1041.0 C790.6 1037.2 795.2 1033.2 800.0 1029.5 C804.8 1025.8 810.5 1021.8 815.0 1018.5 C819.5 1015.2 822.7 1013.0 826.9 1010.0 C831.1 1007.0 835.8 1003.0 840.2 1000.3 C844.7 997.6 849.1 995.9 853.6 993.7 C858.1 991.5 862.0 989.2 867.0 987.0 C872.0 984.8 878.1 981.7 883.6 980.3 C889.1 978.9 894.7 978.6 900.3 978.6 C905.9 978.6 911.4 978.9 917.0 980.3 C922.6 981.7 928.1 984.8 933.7 987.0 C939.3 989.2 945.4 991.2 950.4 993.7 C955.4 996.2 958.7 999.5 963.7 1002.0 C968.7 1004.5 975.4 1006.2 980.4 1008.7 C985.4 1011.2 989.4 1014.1 993.8 1017.0 C998.2 1019.9 1002.5 1023.2 1007.0 1026.0 C1011.5 1028.8 1016.0 1030.7 1020.5 1033.7 C1025.0 1036.7 1028.9 1040.5 1033.8 1044.0 C1038.7 1047.5 1044.5 1051.5 1050.0 1055.0 C1055.5 1058.5 1061.2 1061.4 1066.8 1065.0 C1072.4 1068.6 1078.0 1072.6 1083.5 1076.8 C1089.0 1081.0 1094.5 1085.8 1100.0 1090.0 C1105.5 1094.2 1111.2 1097.6 1116.8 1101.8 C1122.4 1106.0 1128.0 1110.3 1133.5 1115.0 C1139.0 1119.7 1144.4 1125.8 1150.0 1130.0 C1155.6 1134.2 1161.4 1136.1 1167.0 1140.0 C1172.6 1143.9 1178.1 1148.7 1183.6 1153.5 C1189.1 1158.3 1194.4 1164.4 1200.0 1168.6 C1205.6 1172.8 1211.4 1174.7 1217.0 1178.6 C1222.6 1182.5 1228.1 1187.8 1233.7 1192.0 C1239.3 1196.2 1244.9 1199.8 1250.4 1203.6 C1256.0 1207.4 1261.4 1211.7 1267.0 1215.0 C1272.6 1218.3 1278.2 1220.8 1283.8 1223.6 C1289.4 1226.4 1295.0 1229.4 1300.5 1232.0 C1306.0 1234.6 1311.2 1236.4 1316.7 1239.3 C1322.2 1242.2 1327.9 1246.5 1333.4 1249.3 C1339.0 1252.1 1344.4 1253.5 1350.0 1256.0 C1355.6 1258.5 1361.2 1261.9 1366.8 1264.4 C1372.4 1266.9 1378.0 1269.1 1383.5 1271.0 C1389.0 1272.9 1394.5 1274.0 1400.0 1276.0 C1405.5 1278.0 1411.2 1280.6 1416.8 1282.7 C1422.4 1284.8 1428.0 1286.6 1433.5 1288.6 C1439.0 1290.5 1444.4 1292.6 1450.0 1294.4 C1455.6 1296.2 1461.4 1297.9 1467.0 1299.4 C1472.6 1300.9 1478.1 1302.2 1483.6 1303.6 C1489.1 1305.0 1494.4 1306.6 1500.0 1307.8 C1505.6 1309.0 1511.4 1309.9 1517.0 1311.0 C1522.6 1312.1 1528.1 1313.4 1533.7 1314.4 C1539.3 1315.4 1544.9 1316.2 1550.4 1317.0 C1556.0 1317.8 1561.4 1318.3 1567.0 1319.0 C1572.6 1319.7 1578.2 1320.4 1583.8 1321.0 C1589.4 1321.6 1595.0 1322.2 1600.5 1322.8 C1606.0 1323.4 1609.4 1324.1 1617.0 1324.8 C1624.6 1325.5 1636.6 1326.2 1646.0 1327.0 C1655.4 1327.8 1663.3 1328.8 1673.4 1329.5 C1683.5 1330.2 1695.7 1330.3 1706.8 1331.0 C1717.9 1331.7 1728.9 1332.8 1740.0 1333.6 C1751.1 1334.4 1755.2 1334.8 1773.5 1335.6 C1791.8 1336.4 1814.8 1337.7 1850.0 1338.5 C1885.2 1339.3 1962.2 1340.2 1984.7 1340.5"/>
<path stroke="#FF0A1E" stroke-linejoin="round" d="M284.7 1341.0 C293.4 1340.8 319.8 1340.6 336.8 1339.9 C353.8 1339.2 372.9 1338.0 386.8 1336.9 C400.7 1335.8 409.1 1334.9 420.2 1333.5 C431.3 1332.1 442.5 1330.5 453.6 1328.5 C464.7 1326.5 475.9 1324.3 487.0 1321.8 C498.1 1319.3 509.3 1316.5 520.4 1313.5 C531.5 1310.5 542.7 1306.8 553.8 1303.5 C564.9 1300.2 576.5 1297.4 587.0 1293.5 C597.5 1289.6 609.0 1283.9 616.8 1280.0 C624.5 1276.1 627.9 1273.3 633.5 1270.0 C639.1 1266.7 644.6 1263.3 650.2 1260.0 C655.8 1256.7 661.3 1253.3 666.9 1250.0 C672.5 1246.7 678.0 1243.3 683.6 1240.0 C689.2 1236.7 694.7 1233.6 700.3 1230.0 C705.9 1226.4 711.4 1222.4 717.0 1218.5 C722.6 1214.6 728.1 1210.1 733.7 1206.8 C739.3 1203.5 743.5 1202.0 750.4 1198.4 C757.3 1194.8 767.1 1189.2 775.4 1185.0 C783.7 1180.8 793.5 1176.7 800.4 1173.4 C807.3 1170.1 811.3 1167.2 816.8 1165.0 C822.3 1162.8 828.0 1161.7 833.5 1160.0 C839.0 1158.3 844.4 1156.3 850.0 1155.0 C855.6 1153.7 861.4 1152.8 867.0 1152.0 C872.6 1151.2 879.2 1150.6 883.6 1150.0 C888.0 1149.4 889.4 1148.6 893.6 1148.5 C897.8 1148.4 903.3 1149.0 908.6 1149.4 C913.9 1149.8 919.7 1150.2 925.3 1151.0 C930.9 1151.8 936.4 1153.3 942.0 1154.4 C947.6 1155.5 953.1 1156.2 958.7 1157.7 C964.3 1159.2 969.9 1161.9 975.4 1163.6 C980.9 1165.3 986.4 1166.2 992.0 1167.7 C997.6 1169.2 1003.2 1171.0 1008.8 1172.7 C1014.4 1174.4 1018.6 1175.7 1025.5 1177.7 C1032.4 1179.8 1043.1 1183.0 1050.0 1185.0 C1056.9 1187.0 1061.2 1188.0 1066.8 1190.0 C1072.4 1192.0 1078.0 1194.7 1083.5 1197.0 C1089.0 1199.3 1094.5 1201.4 1100.0 1203.6 C1105.5 1205.8 1111.2 1208.1 1116.8 1210.0 C1122.4 1211.9 1128.0 1213.0 1133.5 1215.0 C1139.0 1217.0 1144.4 1219.9 1150.0 1222.0 C1155.6 1224.1 1161.4 1225.8 1167.0 1227.8 C1172.6 1229.8 1178.1 1231.7 1183.6 1233.7 C1189.1 1235.7 1194.4 1237.8 1200.0 1240.0 C1205.6 1242.2 1211.4 1244.7 1217.0 1247.0 C1222.6 1249.3 1228.1 1251.8 1233.7 1253.7 C1239.3 1255.7 1244.9 1256.8 1250.4 1258.7 C1256.0 1260.7 1261.4 1263.5 1267.0 1265.4 C1272.6 1267.4 1278.2 1268.7 1283.8 1270.4 C1289.4 1272.1 1295.0 1273.8 1300.5 1275.4 C1306.0 1277.0 1311.2 1278.6 1316.7 1280.2 C1322.2 1281.8 1327.9 1283.7 1333.4 1285.2 C1339.0 1286.7 1344.4 1288.0 1350.0 1289.4 C1355.6 1290.8 1361.2 1292.2 1366.8 1293.6 C1372.4 1295.0 1378.0 1296.3 1383.5 1297.7 C1389.0 1299.1 1394.5 1300.6 1400.0 1301.9 C1405.5 1303.2 1411.2 1304.2 1416.8 1305.3 C1422.4 1306.4 1428.0 1307.5 1433.5 1308.6 C1439.0 1309.7 1444.4 1311.0 1450.0 1312.0 C1455.6 1313.0 1461.4 1313.6 1467.0 1314.4 C1472.6 1315.2 1478.1 1316.2 1483.6 1317.0 C1489.1 1317.8 1494.4 1318.6 1500.0 1319.4 C1505.6 1320.2 1511.4 1321.3 1517.0 1322.0 C1522.6 1322.7 1528.1 1323.0 1533.7 1323.6 C1539.3 1324.1 1544.9 1324.7 1550.4 1325.3 C1556.0 1325.9 1561.4 1326.5 1567.0 1327.0 C1572.6 1327.5 1578.2 1327.7 1583.8 1328.0 C1589.4 1328.3 1595.0 1328.6 1600.5 1329.0 C1606.0 1329.4 1609.4 1329.8 1617.0 1330.3 C1624.6 1330.8 1633.8 1331.3 1646.0 1332.0 C1658.2 1332.7 1673.2 1333.5 1690.0 1334.5 C1706.8 1335.5 1726.2 1337.0 1746.8 1337.8 C1767.4 1338.6 1792.4 1339.1 1813.6 1339.5 C1834.8 1339.9 1845.2 1340.1 1873.7 1340.3 C1902.2 1340.5 1966.2 1340.5 1984.7 1340.6"/>
</g>
<g font-size="73">
<text transform="translate(231.0 1367.2) scale(1 1.030)" text-anchor="end">0.0</text>
<text transform="translate(231.0 1111.0) scale(1 1.030)" text-anchor="end">0.2</text>
<text transform="translate(231.0 854.8) scale(1 1.030)" text-anchor="end">0.4</text>
<text transform="translate(231.0 598.6) scale(1 1.030)" text-anchor="end">0.6</text>
<text transform="translate(231.0 342.4) scale(1 1.030)" text-anchor="end">0.8</text>
<text transform="translate(231.0 86.2) scale(1 1.030)" text-anchor="end">1.0</text>
<text transform="translate(284.9 1455.3) scale(1 1.030)" text-anchor="middle">500</text>
<text transform="translate(851.6 1455.3) scale(1 1.030)" text-anchor="middle">550</text>
<text transform="translate(1418.2 1455.3) scale(1 1.030)" text-anchor="middle">600</text>
<text transform="translate(1984.8 1455.3) scale(1 1.030)" text-anchor="middle">650</text>
<text transform="translate(1135.9 1575.3) scale(1 1.030)" text-anchor="middle" letter-spacing="0.96">Wavelength (nm)</text>
<text transform="translate(83.4 771.0) rotate(-90) scale(1 1.035)" text-anchor="middle" letter-spacing="0.2">Normalized intensity</text>
<text transform="translate(1745.5 150.0) scale(1 1.040)" letter-spacing="0.4">77 K</text>
<text transform="translate(1745.5 240.8) scale(1 1.040)" letter-spacing="0.4">150 K</text>
<text transform="translate(1745.5 331.5) scale(1 1.040)" letter-spacing="0.4">200 K</text>
<text transform="translate(1745.5 422.3) scale(1 1.040)" letter-spacing="0.4">250 K</text>
<text transform="translate(1745.5 513.0) scale(1 1.040)" letter-spacing="0.4">300 K</text>
<text transform="translate(1745.5 603.8) scale(1 1.040)" letter-spacing="0.4">350 K</text>
<text transform="translate(1745.5 694.6) scale(1 1.040)" letter-spacing="0.4">400 K</text>
<text transform="translate(1745.5 785.3) scale(1 1.040)" letter-spacing="0.4">450 K</text>
<text transform="translate(1745.5 876.1) scale(1 1.040)" letter-spacing="0.4">500 K</text>
<text transform="translate(1557.7 1059.8) scale(0.97 0.815)" style="font-family:'Noto Serif CJK SC','Liberation Serif',serif" font-size="70">λ</text>
<text transform="translate(1594.5 1088.7) scale(1 1.030)" font-size="43.5">Ex</text>
<text transform="translate(1663.3 1060.3) scale(1 1.030)" letter-spacing="0.4">= 338</text>
<text transform="translate(1868.4 1060.3) scale(1 1.030)" letter-spacing="2.6">nm</text>
</g>
<g fill="none" stroke-width="10.3" stroke-linecap="round">
<line x1="1560" y1="123.9" x2="1725.5" y2="123.9" stroke="#006B1F"/>
<line x1="1560" y1="214.7" x2="1725.5" y2="214.7" stroke="#6C9613"/>
<line x1="1560" y1="305.4" x2="1725.5" y2="305.4" stroke="#B5BE0A"/>
<line x1="1560" y1="396.2" x2="1725.5" y2="396.2" stroke="#F0C60A"/>
<line x1="1560" y1="486.9" x2="1725.5" y2="486.9" stroke="#FDBF00"/>
<line x1="1560" y1="577.7" x2="1725.5" y2="577.7" stroke="#FFA50A"/>
<line x1="1560" y1="668.5" x2="1725.5" y2="668.5" stroke="#FF7A12"/>
<line x1="1560" y1="759.2" x2="1725.5" y2="759.2" stroke="#FF3B1C"/>
<line x1="1560" y1="850.0" x2="1725.5" y2="850.0" stroke="#FF0A1E"/>
</g>
<line x1="1274.7" y1="91" x2="1274.7" y2="990" stroke="#000" stroke-width="10.2"/>
<path d="M1275.2 1041.5 L1247.2 963.5 L1275.2 982 L1303.4 963.5 Z" fill="#000" stroke="#000" stroke-width="4.5" stroke-linejoin="round"/>
</svg></body></html>
